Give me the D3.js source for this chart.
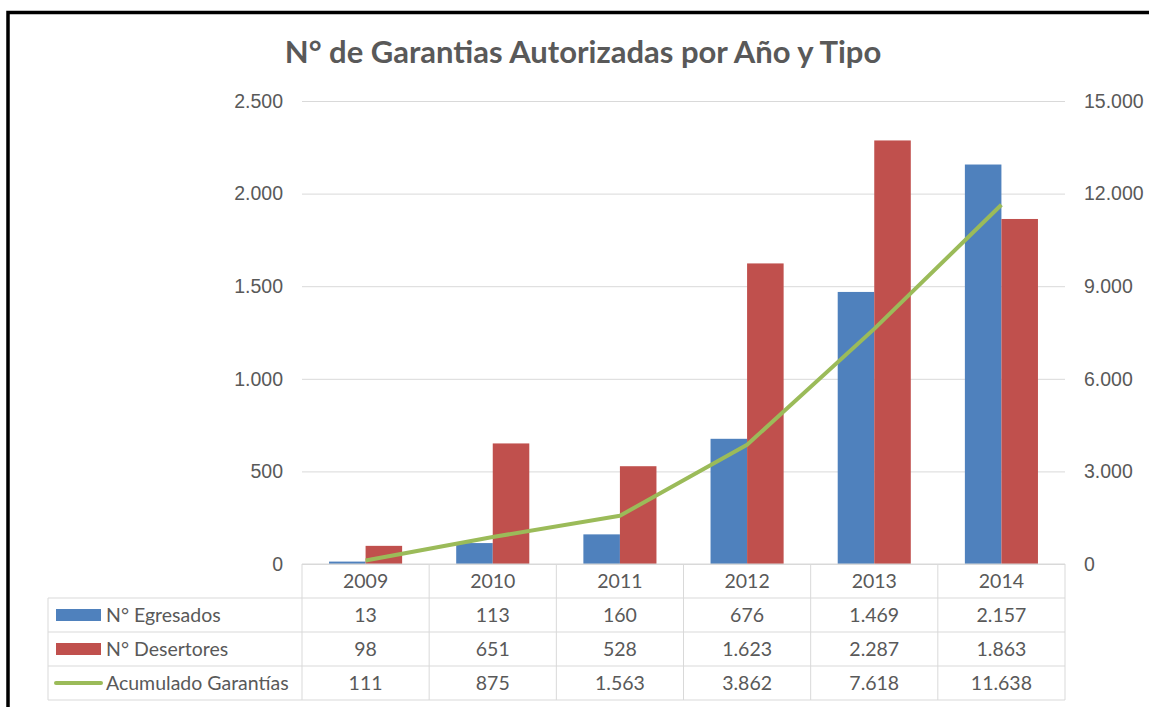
<!DOCTYPE html>
<meta charset="utf-8">
<title>N° de Garantias Autorizadas por Año y Tipo</title>
<style>
  body { margin: 0; background: #fff; }
  svg { display: block; font-family: Lato, "Open Sans", sans-serif; }
  .tick text { fill: #595959; font-size: 19.5px; }
  .cell { fill: #595959; font-size: 19.5px; }
</style>
<body>
<script src="https://cdn.jsdelivr.net/npm/d3@7"></script>
<script>
const years = ['2009', '2010', '2011', '2012', '2013', '2014'];
const egresados = [13, 113, 160, 676, 1469, 2157];
const desertores = [98, 651, 528, 1623, 2287, 1863];
const acumulado = [111, 875, 1563, 3862, 7618, 11638];
const leftTicks = [0, 500, 1000, 1500, 2000, 2500];
const rightTicks = [0, 3000, 6000, 9000, 12000, 15000];

const series = [
  { name: 'N° Egresados', values: egresados, color: '#4F81BD', kind: 'bar' },
  { name: 'N° Desertores', values: desertores, color: '#C0504D', kind: 'bar' },
  { name: 'Acumulado Garantías', values: acumulado, color: '#9BBB59', kind: 'line' }
];

const W = 1149, H = 707;
const plot = { left: 302, right: 1065, top: 101, bottom: 564 };
const rowH = 34;
const tableLeft = 48;

const loc = d3.formatLocale({ decimal: ',', thousands: '.', grouping: [3], currency: ['', ''] });
const fmt = loc.format(',d');

const svg = d3.select('body').append('svg')
    .attr('width', W)
    .attr('height', H);

// outer frame (right and bottom sides fall outside the picture)
svg.append('rect')
    .attr('x', 8).attr('y', 12.5)
    .attr('width', 1200).attr('height', 760)
    .attr('fill', 'none')
    .attr('stroke', '#000')
    .attr('stroke-width', 3.5);

svg.append('text')
    .attr('x', 583).attr('y', 63)
    .attr('text-anchor', 'middle')
    .attr('fill', '#595959')
    .style('font-size', '31px')
    .style('font-weight', 'bold')
    .text('N° de Garantias Autorizadas por Año y Tipo');

const x = d3.scaleBand().domain(years).range([plot.left, plot.right]);
const xs = d3.scaleBand().domain([0, 1]).range([0, x.bandwidth()]).paddingInner(0).paddingOuter(0.74);
const y = d3.scaleLinear().domain([0, 2500]).range([plot.bottom, plot.top]);
const y2 = d3.scaleLinear().domain([0, 15000]).range([plot.bottom, plot.top]);

// left axis + grid
const gl = svg.append('g')
    .attr('transform', `translate(${plot.left},0)`)
    .call(d3.axisLeft(y).tickValues(leftTicks).tickFormat(fmt)
      .tickSize(-(plot.right - plot.left)).tickPadding(19));
gl.select('.domain').remove();
gl.selectAll('.tick line').attr('stroke', '#d9d9d9');

const gr = svg.append('g')
    .attr('transform', `translate(${plot.right},0)`)
    .call(d3.axisRight(y2).tickValues(rightTicks).tickFormat(fmt).tickSize(0).tickPadding(19));
gr.select('.domain').remove();

// bars
series.filter(s => s.kind === 'bar').forEach((s, si) => {
  svg.append('g').selectAll('rect')
    .data(s.values)
    .join('rect')
      .attr('x', (d, i) => x(years[i]) + xs(si))
      .attr('y', d => y(d))
      .attr('width', xs.bandwidth())
      .attr('height', d => plot.bottom - y(d))
      .attr('fill', s.color);
});

// line
const lineS = series.find(s => s.kind === 'line');
svg.append('path')
    .datum(lineS.values)
    .attr('fill', 'none')
    .attr('stroke', lineS.color)
    .attr('stroke-width', 4)
    .attr('stroke-linejoin', 'round')
    .attr('d', d3.line().x((d, i) => x(years[i]) + x.bandwidth() / 2).y(d => y2(d)));

// data table
const tg = svg.append('g');
const tableBottom = plot.bottom + rowH * 4;
const lineColor = '#d9d9d9';

tg.append('line').attr('x1', plot.left).attr('x2', plot.right)
    .attr('y1', plot.bottom).attr('y2', plot.bottom).attr('stroke', lineColor);
for (let r = 1; r <= 4; r++) {
  tg.append('line').attr('x1', tableLeft).attr('x2', plot.right)
      .attr('y1', plot.bottom + rowH * r).attr('y2', plot.bottom + rowH * r)
      .attr('stroke', lineColor);
}
tg.append('line').attr('x1', tableLeft).attr('x2', tableLeft)
    .attr('y1', plot.bottom + rowH).attr('y2', tableBottom).attr('stroke', lineColor);
years.concat(['end']).forEach((yr, i) => {
  const xx = i < years.length ? x(yr) : plot.right;
  tg.append('line').attr('x1', xx).attr('x2', xx)
      .attr('y1', plot.bottom).attr('y2', tableBottom).attr('stroke', lineColor);
});

tg.selectAll('.hdr').data(years).join('text')
    .attr('class', 'cell')
    .attr('x', d => x(d) + x.bandwidth() / 2)
    .attr('y', plot.bottom + rowH / 2)
    .attr('dy', '0.35em')
    .attr('text-anchor', 'middle')
    .text(d => d);

series.forEach((s, r) => {
  const cy = plot.bottom + rowH * (r + 1) + rowH / 2;
  if (s.kind === 'bar') {
    tg.append('rect').attr('x', 56).attr('y', cy - 6).attr('width', 45).attr('height', 12).attr('fill', s.color);
  } else {
    tg.append('line').attr('x1', 56).attr('x2', 101).attr('y1', cy).attr('y2', cy)
        .attr('stroke', s.color).attr('stroke-width', 4).attr('stroke-linecap', 'round');
  }
  tg.append('text').attr('class', 'cell')
      .attr('x', 106).attr('y', cy).attr('dy', '0.35em')
      .text(s.name);
  tg.selectAll(null).data(s.values).join('text')
      .attr('class', 'cell')
      .attr('x', (d, i) => x(years[i]) + x.bandwidth() / 2)
      .attr('y', cy).attr('dy', '0.35em')
      .attr('text-anchor', 'middle')
      .text(d => fmt(d));
});
</script>
</body>
